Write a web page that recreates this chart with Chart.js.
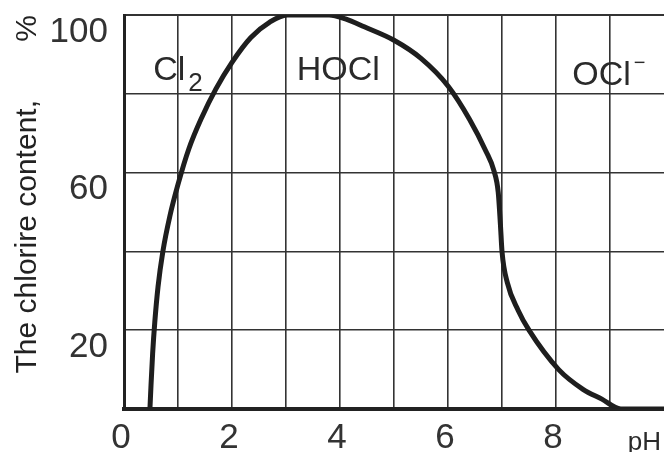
<!DOCTYPE html>
<html>
<head>
<meta charset="utf-8">
<script src="https://cdn.jsdelivr.net/npm/chart.js@4.4.1/dist/chart.umd.min.js"></script>
<style>
    html, body { margin: 0; padding: 0; background: #fff; }
    #wrap { width: 664px; height: 452px; position: relative; }
</style>
</head>
<body>
<div id="wrap"><canvas id="chlorineChart"></canvas></div>
<script>
// curve: pH vs share of chlorine as HOCl
const phValues = [0.48, 0.5, 0.53, 0.57, 0.63, 0.72, 0.85, 1.0, 1.2, 1.44, 1.7, 2.0, 2.35, 2.7, 3.02, 3.8, 4.1, 4.45, 5.0, 5.5, 6.0, 6.4, 6.7, 6.85, 6.93, 6.97, 7.0, 7.1, 7.3, 7.5, 8.05, 8.5, 8.85, 9.2, 10];
const hoclPercent = [0, 6, 14, 22, 31, 40, 49, 57, 66, 74, 81.2, 88, 94.3, 98.2, 100, 100, 99, 97, 93.6, 89, 82, 73.5, 65.5, 60.5, 55, 47, 40, 32, 25, 20, 10, 5, 2.5, 0, 0];

const xTickLabels = [0, 2, 4, 6, 8];
const yTickLabels = [20, 60, 100];

const speciesNames = ['Cl', 'HOCl', 'OCl'];
const speciesSub = ['2', '', ''];
const speciesSup = ['', '', '\u2212'];
const speciesPh = [0.54, 3.2, 8.3];
const speciesPct = [83.5, 83.5, 82.2];

const axisTitle = 'The chlorire content,       %';
const xUnit = 'pH';

const tickFont = '"Liberation Sans", Arial, sans-serif';

const labelsPlugin = {
    id: 'speciesLabels',
    afterDraw(chart) {
        const ctx = chart.ctx;
        const xs = chart.scales.x;
        const ys = chart.scales.y;
        ctx.save();
        ctx.fillStyle = '#2a2a2a';
        ctx.textBaseline = 'alphabetic';
        ctx.textAlign = 'left';
        speciesNames.forEach((name, i) => {
            let px = xs.getPixelForValue(speciesPh[i]);
            const py = ys.getPixelForValue(speciesPct[i]);
            ctx.font = '34px ' + tickFont;
            ctx.fillText(name, px, py);
            px += ctx.measureText(name).width + 3;
            if (speciesSub[i]) {
                ctx.font = '26px ' + tickFont;
                ctx.fillText(speciesSub[i], px, py + 11);
            }
            if (speciesSup[i]) {
                ctx.font = '20px ' + tickFont;
                ctx.fillText(speciesSup[i], px, py - 16);
            }
        });
        // unit at the end of the x axis
        ctx.font = '26px ' + tickFont;
        ctx.textAlign = 'right';
        ctx.fillText(xUnit, chart.width - 3, chart.height - 2);
        ctx.restore();
    }
};

const ctx = document.getElementById('chlorineChart').getContext('2d');
new Chart(ctx, {
    type: 'line',
    data: {
        datasets: [{
            data: phValues.map((ph, i) => ({ x: ph, y: hoclPercent[i] })),
            borderColor: '#1e1e1e',
            borderWidth: 5,
            pointRadius: 0,
            cubicInterpolationMode: 'monotone',
            fill: false
        }]
    },
    options: {
        responsive: true,
        maintainAspectRatio: false,
        animation: false,
        layout: { padding: { top: 15, right: 0, left: 0, bottom: 0 } },
        plugins: {
            legend: { display: false },
            tooltip: { enabled: false }
        },
        scales: {
            x: {
                type: 'linear',
                min: 0,
                max: 10,
                ticks: {
                    stepSize: 1,
                    autoSkip: false,
                    maxRotation: 0,
                    padding: 8,
                    labelOffset: -3,
                    color: '#333',
                    font: { family: tickFont, size: 35 },
                    callback: value => xTickLabels.includes(value) ? String(value) : ''
                },
                grid: {
                    color: ctx => ctx.tick && ctx.tick.value === 10 ? 'rgba(0,0,0,0)' : '#333',
                    lineWidth: 1.6,
                    drawTicks: false
                },
                border: { color: '#222', width: 4 },
                afterFit: scale => {
                    scale.height = 43;
                    scale.paddingLeft = 0;
                    scale.paddingRight = 0;
                }
            },
            y: {
                min: 0,
                max: 100,
                ticks: {
                    stepSize: 20,
                    padding: 16,
                    labelOffset: 17,
                    color: '#333',
                    font: { family: tickFont, size: 35 },
                    callback: value => yTickLabels.includes(value) ? String(value) : ''
                },
                grid: {
                    color: '#333',
                    lineWidth: ctx => ctx.tick && ctx.tick.value === 100 ? 2 : 1.6,
                    drawTicks: false
                },
                border: { color: '#222', width: 3 },
                title: {
                    display: true,
                    text: axisTitle,
                    align: 'end',
                    color: '#222',
                    padding: { top: 10, bottom: 0 },
                    font: { family: tickFont, size: 30 }
                },
                afterFit: scale => {
                    scale.width = 124;
                    scale.paddingTop = 0;
                    scale.paddingBottom = 0;
                }
            }
        }
    },
    plugins: [labelsPlugin]
});
</script>
</body>
</html>
